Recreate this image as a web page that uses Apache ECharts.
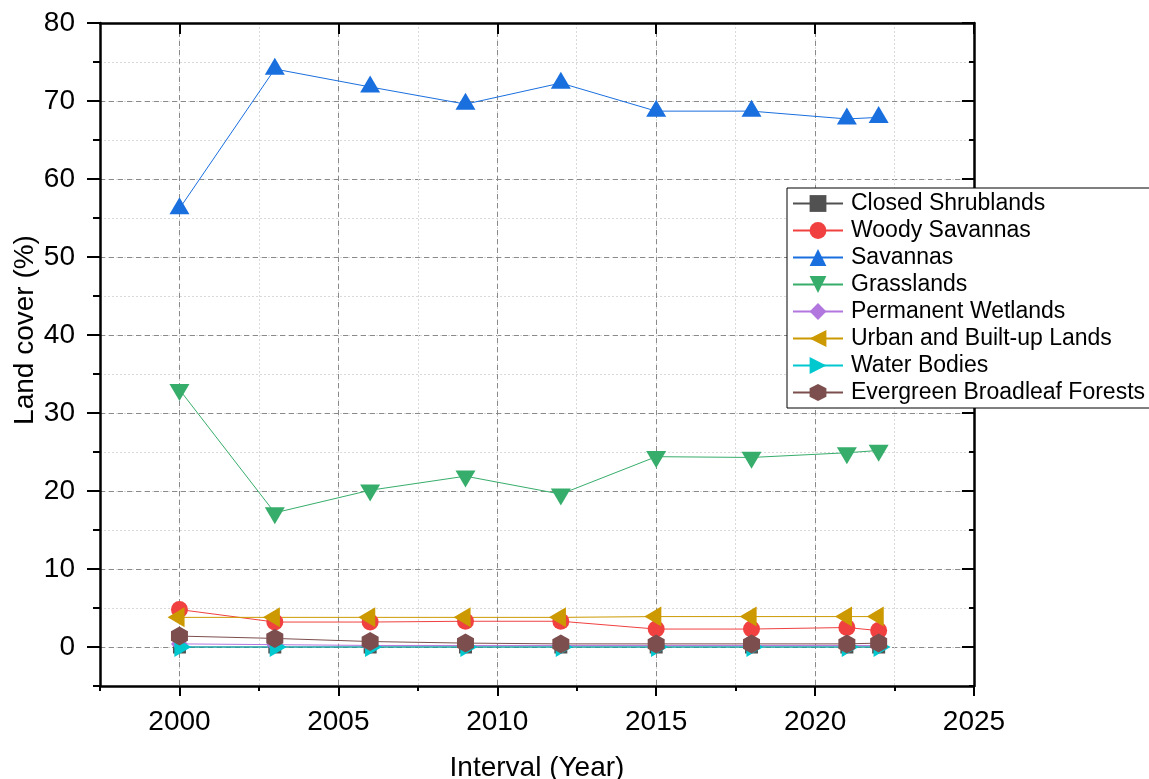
<!DOCTYPE html>
<html>
<head>
<meta charset="utf-8">
<script src="https://cdn.jsdelivr.net/npm/echarts@6/dist/echarts.min.js"></script>
<style>
  html, body { margin: 0; padding: 0; background: #fff; }
  #chart { width: 1149px; height: 779px; }
</style>
</head>
<body>
<div id="chart"></div>
<script>
// Survey years and land-cover shares (%)
const years = [2000, 2003, 2006, 2009, 2012, 2015, 2018, 2021, 2022];
const closedShrublands = [0.0, 0.0, 0.0, 0.0, 0.0, 0.0, 0.0, 0.0, 0.0];
const woodySavannas = [4.8, 3.2, 3.2, 3.3, 3.3, 2.3, 2.3, 2.5, 2.1];
const savannas = [56.2, 74.1, 71.8, 69.6, 72.3, 68.7, 68.7, 67.7, 67.9];
const grasslands = [33.0, 17.2, 20.1, 21.9, 19.6, 24.4, 24.3, 24.9, 25.2];
const permanentWetlands = [0.4, 0.3, 0.2, 0.2, 0.2, 0.2, 0.2, 0.2, 0.2];
const urbanLands = [3.8, 3.8, 3.8, 3.8, 3.8, 3.9, 3.9, 3.9, 3.9];
const waterBodies = [0.0, 0.0, 0.0, 0.0, 0.0, 0.0, 0.0, 0.0, 0.0];
const evergreenForests = [1.4, 1.1, 0.7, 0.5, 0.4, 0.4, 0.4, 0.4, 0.5];

// Axis tick values
const xMajorTicks = [2000, 2005, 2010, 2015, 2020, 2025];
const yMajorTicks = [0, 10, 20, 30, 40, 50, 60, 70, 80];

const FONT = 'Liberation Sans, Arial, Helvetica, sans-serif';
const HEX = 'path://M50 0 L93.3 25 L93.3 75 L50 100 L6.7 75 L6.7 25 Z';

const seriesDefs = [
  { name: 'Closed Shrublands', data: closedShrublands, color: '#515151', symbol: 'rect', size: 13 },
  { name: 'Woody Savannas', data: woodySavannas, color: '#F14040', symbol: 'circle', size: 17 },
  { name: 'Savannas', data: savannas, color: '#1A6FDF', symbol: 'triangle', size: [20, 17], offset: [0, '-17%'] },
  { name: 'Grasslands', data: grasslands, color: '#37AD6B', symbol: 'triangle', size: [20, 17], rotate: 180, offset: [0, '17%'] },
  { name: 'Permanent Wetlands', data: permanentWetlands, color: '#B177DE', symbol: 'diamond', size: 17 },
  { name: 'Urban and Built-up Lands', data: urbanLands, color: '#CC9900', symbol: 'triangle', size: [20, 17], rotate: 90, offset: ['-17%', 0] },
  { name: 'Water Bodies', data: waterBodies, color: '#00C8CF', symbol: 'triangle', size: [20, 17], rotate: -90, offset: ['17%', 0] },
  { name: 'Evergreen Broadleaf Forests', data: evergreenForests, color: '#7D4E4E', symbol: HEX, size: [17, 19] }
];

const series = seriesDefs.map(d => ({
  name: d.name,
  type: 'line',
  xAxisIndex: 0,
  yAxisIndex: 0,
  data: years.map((y, i) => [y, d.data[i]]),
  symbol: d.symbol,
  symbolSize: d.size,
  symbolRotate: d.rotate || 0,
  symbolOffset: d.offset || [0, 0],
  showSymbol: true,
  animation: false,
  itemStyle: { color: d.color, opacity: 1 },
  lineStyle: { color: d.color, width: 1 },
  emphasis: { disabled: true }
}));

const black = '#000';
const minorGrid = { show: true, lineStyle: { color: '#d9d9d9', type: [2, 2], width: 1 } };
const majorGrid = { show: true, lineStyle: { color: '#8a8a8a', type: [5, 4], width: 1 } };
const plotRect = { left: 100, right: 175, top: 23, bottom: 93, containLabel: false, outerBoundsMode: 'none' };

const option = {
  backgroundColor: '#fff',
  animation: false,
  textStyle: { fontFamily: FONT },
  grid: [Object.assign({}, plotRect), Object.assign({}, plotRect)],
  xAxis: [
    {
      gridIndex: 0, type: 'value', position: 'bottom',
      min: 1997.5, max: 2025, interval: 2.5,
      axisLine: { show: true, onZero: false, lineStyle: { color: black, width: 2.5 } },
      axisTick: { show: true, length: 5, lineStyle: { color: black, width: 2 } },
      axisLabel: {
        fontSize: 28, color: black, fontFamily: FONT, margin: 22,
        formatter: v => (v % 5 === 0 ? String(v) : '')
      },
      splitLine: minorGrid,
      name: 'Interval (Year)', nameLocation: 'middle', nameGap: 68,
      nameTextStyle: { fontSize: 28, color: black, fontFamily: FONT }
    },
    {
      gridIndex: 0, type: 'value', position: 'top',
      min: 1997.5, max: 2025, interval: 2.5,
      axisLine: { show: true, onZero: false, lineStyle: { color: black, width: 2.5 } },
      axisTick: { show: true, inside: true, length: 11, customValues: xMajorTicks, lineStyle: { color: black, width: 2 } },
      axisLabel: { show: false },
      splitLine: { show: false }
    },
    {
      gridIndex: 1, type: 'value', position: 'bottom',
      min: 1997.5, max: 2025, interval: 2.5,
      axisLine: { show: false, onZero: false },
      axisTick: { show: true, length: 10, customValues: xMajorTicks, lineStyle: { color: black, width: 2 } },
      axisLabel: { show: false },
      splitLine: majorGrid
    }
  ],
  yAxis: [
    {
      gridIndex: 0, type: 'value', position: 'left',
      min: -5, max: 80, interval: 5,
      axisLine: { show: true, onZero: false, lineStyle: { color: black, width: 2.5 } },
      axisTick: { show: true, length: 7, lineStyle: { color: black, width: 2 } },
      axisLabel: {
        fontSize: 28, color: black, fontFamily: FONT, margin: 25,
        padding: [7, 0, 0, 0],
        formatter: v => (v % 10 === 0 ? String(v) : '')
      },
      splitLine: minorGrid
    },
    {
      gridIndex: 0, type: 'value', position: 'right',
      min: -5, max: 80, interval: 5,
      axisLine: { show: true, onZero: false, lineStyle: { color: black, width: 2.5 } },
      axisTick: { show: true, inside: true, length: 5, lineStyle: { color: black, width: 2 } },
      axisLabel: { show: false },
      splitLine: { show: false }
    },
    {
      gridIndex: 1, type: 'value', position: 'left',
      min: -5, max: 80, interval: 5,
      axisLine: { show: false, onZero: false },
      axisTick: { show: true, length: 13, customValues: yMajorTicks, lineStyle: { color: black, width: 2 } },
      axisLabel: { show: false },
      splitLine: majorGrid
    },
    {
      gridIndex: 1, type: 'value', position: 'right',
      min: -5, max: 80, interval: 5,
      axisLine: { show: false, onZero: false },
      axisTick: { show: true, inside: true, length: 12, customValues: yMajorTicks, lineStyle: { color: black, width: 2 } },
      axisLabel: { show: false },
      splitLine: { show: false }
    }
  ],
  legend: {
    orient: 'vertical',
    left: 787, top: 188,
    padding: [4, 20, 4, 5],
    itemWidth: 50, itemHeight: 21, itemGap: 4,
    backgroundColor: '#fff',
    borderColor: black, borderWidth: 1,
    selectedMode: false,
    textStyle: { fontSize: 23, color: black, fontFamily: FONT, padding: [0, 0, 0, 3] },
    data: seriesDefs.map(d => d.name)
  },
  graphic: [
    {
      type: 'text',
      x: 25, y: 330,
      rotation: Math.PI / 2,
      style: {
        text: 'Land cover (%)',
        font: '28px ' + FONT,
        fill: black,
        align: 'center',
        verticalAlign: 'middle'
      }
    }
  ],
  series: series
};

const chart = echarts.init(document.getElementById('chart'), null, { renderer: 'canvas' });
chart.setOption(option);
</script>
</body>
</html>
